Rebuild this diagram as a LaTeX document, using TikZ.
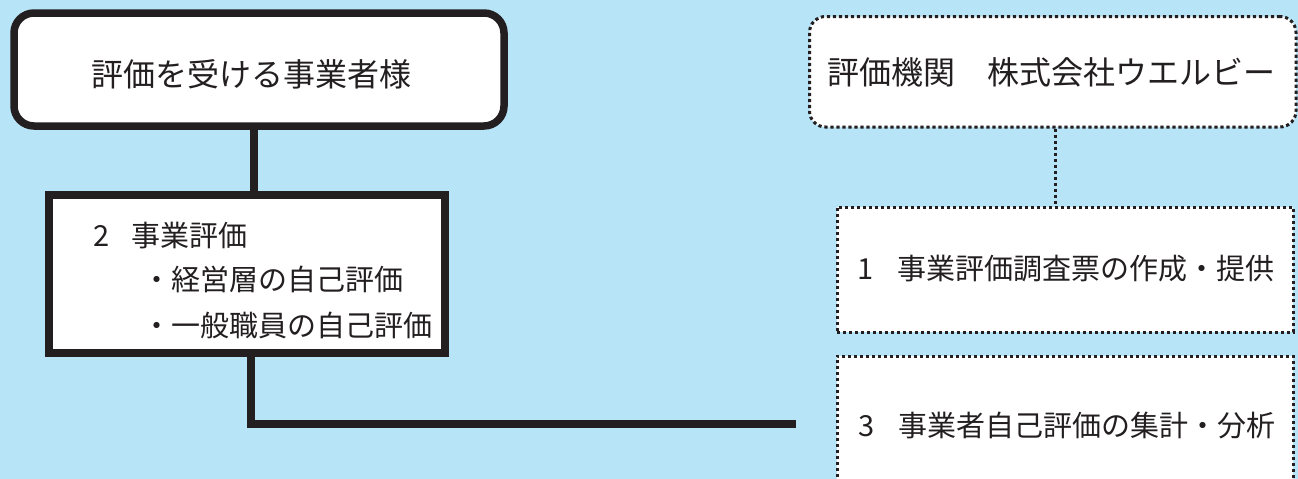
\documentclass[tikz,border=0pt]{standalone}
\usepackage{fontspec}
\setmainfont{Noto Sans CJK JP}
\definecolor{skyback}{RGB}{184,228,248}
\definecolor{inkblack}{RGB}{35,31,32}
\tikzset{
	solidbox/.style={draw=inkblack,fill=white,line width=7.5pt,inner sep=0pt},
	dotbox/.style={draw=inkblack,fill=white,line width=3pt,dash pattern=on 3.2pt off 2.8pt,inner sep=0pt},
	solidlink/.style={draw=inkblack,line width=7.5pt},
	dotlink/.style={draw=inkblack,line width=3pt,dash pattern=on 3.2pt off 2.8pt},
	bigtext/.style={text=inkblack,font=\fontsize{32pt}{38pt}\selectfont,inner sep=0pt},
	smalltext/.style={text=inkblack,font=\fontsize{29pt}{35pt}\selectfont,inner sep=0pt}
}
\begin{document}
\begin{tikzpicture}[x=1pt,y=-1pt]
	   \useasboundingbox (0,0) rectangle (1298,479);
	   \clip (0,0) rectangle (1298,479);
	   \fill [skyback] (0,0) rectangle (1298,479);
	   \node [solidbox,rounded corners=20pt,minimum width=490pt,minimum height=113pt] (client) at (259,69.5) {};
	   \node [bigtext] (clienttxt) at (251,74) {評価を受ける事業者様};
	   \node [solidbox,minimum width=396pt,minimum height=158pt] (task) at (247,274) {};
	   \node [smalltext,anchor=west] (tasktitle) at (93,236) {2\hspace{22pt}事業評価};
	   \node [smalltext,anchor=west] (taskmgmt) at (142,279) {・経営層の自己評価};
	   \node [smalltext,anchor=west] (taskstaff) at (142,325) {・一般職員の自己評価};
	   \node [dotbox,rounded corners=16pt,minimum width=486.5pt,minimum height=110.5pt] (agency) at (1052.75,71.75) {};
	   \node [bigtext] (agencytxt) at (1051,72) {評価機関　株式会社ウエルビー};
	   \node [dotbox,minimum width=456pt,minimum height=125pt] (survey) at (1065,269.5) {};
	   \node [smalltext] (surveytxt) at (1066,269) {1\hspace{23pt}事業評価調査票の作成・提供};
	   \node [dotbox,minimum width=456pt,minimum height=140pt] (analysis) at (1065,426) {};
	   \node [smalltext] (analysistxt) at (1067,426) {3\hspace{23pt}事業者自己評価の集計・分析};
	   \coordinate (lineend) at (796,424);
	   \draw [solidlink] ([xshift=-5pt]client.south) -- ([xshift=-5pt]client.south |- task.north);
	   \draw [solidlink] ([xshift=4pt]task.south) |- (lineend);
	   \draw [dotlink] ([xshift=3pt]agency.south) -- ([xshift=3pt]agency.south |- survey.north);
	\end{tikzpicture}
\end{document}
